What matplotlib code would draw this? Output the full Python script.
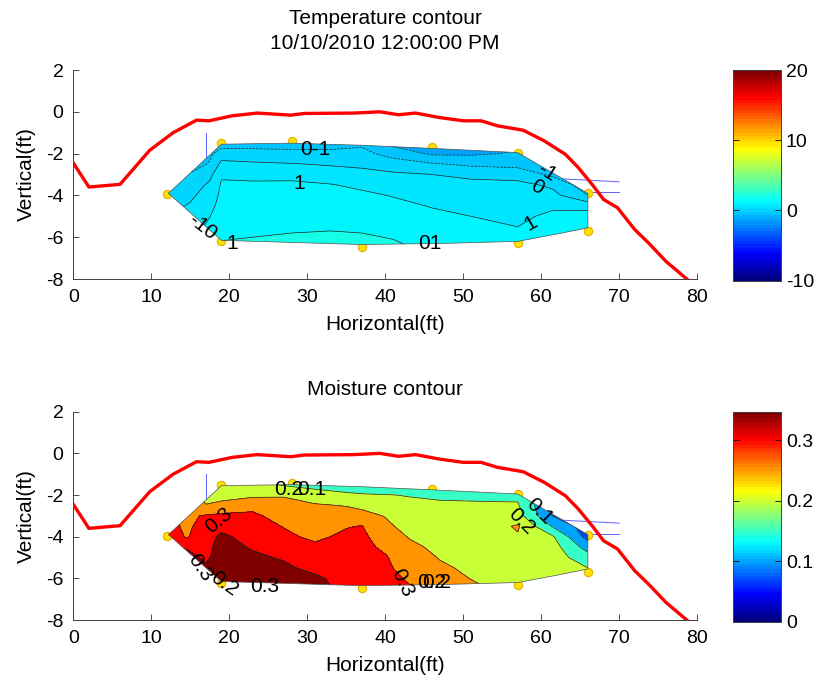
import numpy as np
import matplotlib.pyplot as plt
from matplotlib.patches import Polygon
from matplotlib.colors import Normalize, LinearSegmentedColormap
from matplotlib.cm import ScalarMappable

plt.rcParams['font.family'] = ['Liberation Sans', 'DejaVu Sans']
plt.rcParams['axes.unicode_minus'] = False

# ground surface profile (ft)
surf_x = [0, 2, 6, 9.8, 12.8, 15.8, 17.4, 20.4, 23.6, 27.9, 29.6, 36, 39.3, 41.7, 43.9,
          46.9, 50, 52.3, 54.4, 57.7, 60.4, 63.1, 64.7, 66.6, 68, 69.8, 72, 73.9, 76, 79]
surf_y = [-2.45, -3.6, -3.47, -1.84, -1.0, -0.4, -0.43, -0.19, -0.06, -0.16, -0.08, -0.06,
          0.0, -0.14, -0.06, -0.27, -0.43, -0.43, -0.67, -0.88, -1.39, -2.03, -2.64, -3.5,
          -4.19, -4.59, -5.63, -6.32, -7.15, -8.1]

# sensor locations
sens_x = [19, 28, 46, 57, 12, 66, 66, 19, 37, 57]
sens_y = [-1.5, -1.4, -1.7, -1.95, -3.95, -3.9, -5.7, -6.2, -6.45, -6.3]

# outline of the monitored zone
zone_x = [12.2, 19, 28, 37, 46, 57, 66, 66, 62, 57, 47, 37, 19]
zone_y = [-3.9, -1.55, -1.5, -1.6, -1.75, -1.95, -3.9, -5.55, -5.85, -6.2, -6.3, -6.35, -6.15]

# pipes / probes
probe_x = [[17, 17], [62.3, 70], [66, 70]]
probe_y = [[-1.0, -2.4], [-3.2, -3.35], [-3.85, -3.85]]

grid_y = [-1.5, -2.0, -2.5, -3.0, -3.5, -4.0, -4.5, -5.0, -5.5, -6.0, -6.5]

# temperature (deg) on grid
temp_x = [12, 15, 17.5, 19, 23, 28, 33, 37, 41, 46, 51, 57, 61.5, 66]
temp = [
    [-1.0, -1.5, -1.4, -1.5, -1.45, -1.45, -1.4, -1.2, -2.3, -2.6, -2.6, -2.2, -2.0, -2.0],
    [-1.0, -1.5, -1.2, -0.5, -0.6, -0.7, -0.75, -0.7, -1.4, -2.15, -2.15, -1.9, -2.0, -2.0],
    [-0.8, -1.5, -0.9, 0.25, 0.15, 0.05, -0.1, -0.2, -0.5, -0.9, -1.2, -1.3, -1.8, -2.0],
    [-0.6, -0.9, -0.3, 0.9, 0.75, 0.7, 0.5, 0.3, 0.15, 0.0, -0.2, -0.45, -1.2, -2.0],
    [-0.5, -0.6, 0.2, 1.1, 1.15, 1.2, 1.05, 0.8, 0.55, 0.3, 0.25, 0.3, -0.2, -1.6],
    [-0.4, -0.2, 0.5, 1.2, 1.3, 1.35, 1.3, 1.2, 0.95, 0.6, 0.5, 0.5, 0.3, -1.0],
    [-0.3, 0.1, 0.75, 1.3, 1.4, 1.5, 1.5, 1.45, 1.25, 0.95, 0.75, 0.65, 0.85, 0.6],
    [-0.1, 0.4, 0.98, 1.4, 1.5, 1.65, 1.7, 1.65, 1.5, 1.2, 1.0, 0.8, 1.2, 1.5],
    [0.1, 0.6, 1.2, 1.6, 1.7, 1.85, 1.9, 1.85, 1.7, 1.4, 1.2, 1.0, 1.4, 1.7],
    [0.3, 0.8, 1.5, 1.9, 2.0, 2.1, 2.15, 2.1, 1.95, 1.6, 1.4, 1.15, 1.5, 1.8],
    [0.5, 1.0, 1.8, 2.2, 2.3, 2.4, 2.4, 2.3, 2.2, 1.8, 1.6, 1.3, 1.6, 1.9],
]
temp_levels = [-3, -2, -1, 0, 1, 2, 3]
# shade used for each temperature band, as it appears in the picture
temp_band_tone = [-1.2, -0.6, 0.0, 0.5, 1.1, 1.8]

# moisture on grid
moist_x = [12, 14.5, 17, 19, 23, 27, 31, 35, 37, 40, 43, 47, 52, 57, 61.5, 66]
moist = [
    [0.30, 0.28, 0.22, 0.21, 0.215, 0.195, 0.18, 0.17, 0.165, 0.16, 0.155, 0.15, 0.145, 0.17, 0.08, 0.075],
    [0.30, 0.28, 0.235, 0.23, 0.24, 0.245, 0.225, 0.21, 0.205, 0.202, 0.198, 0.195, 0.185, 0.19, 0.08, 0.075],
    [0.30, 0.285, 0.252, 0.265, 0.285, 0.27, 0.255, 0.248, 0.24, 0.225, 0.21, 0.205, 0.21, 0.205, 0.09, 0.075],
    [0.31, 0.29, 0.305, 0.31, 0.31, 0.28, 0.27, 0.27, 0.265, 0.248, 0.225, 0.215, 0.215, 0.22, 0.098, 0.072],
    [0.32, 0.29, 0.32, 0.335, 0.32, 0.298, 0.28, 0.297, 0.302, 0.26, 0.235, 0.225, 0.22, 0.256, 0.145, 0.072],
    [0.34, 0.295, 0.33, 0.36, 0.33, 0.31, 0.29, 0.31, 0.31, 0.275, 0.248, 0.232, 0.225, 0.245, 0.205, 0.08],
    [0.35, 0.345, 0.335, 0.37, 0.345, 0.32, 0.31, 0.315, 0.315, 0.29, 0.26, 0.24, 0.23, 0.235, 0.22, 0.13],
    [0.36, 0.37, 0.34, 0.375, 0.36, 0.345, 0.32, 0.32, 0.318, 0.305, 0.27, 0.248, 0.235, 0.23, 0.225, 0.17],
    [0.36, 0.37, 0.36, 0.38, 0.37, 0.36, 0.335, 0.325, 0.32, 0.31, 0.28, 0.256, 0.24, 0.225, 0.225, 0.2],
    [0.36, 0.37, 0.38, 0.38, 0.375, 0.37, 0.36, 0.33, 0.322, 0.315, 0.295, 0.265, 0.245, 0.22, 0.225, 0.21],
    [0.36, 0.37, 0.38, 0.38, 0.38, 0.375, 0.37, 0.335, 0.325, 0.32, 0.305, 0.27, 0.255, 0.22, 0.225, 0.215],
]
moist_levels = [0.07, 0.1, 0.15, 0.2, 0.25, 0.3, 0.35, 0.4]
moist_band_tone = moist_levels[:-1]

# contour labels as printed: text, x, y, rotation
temp_labels = [("0-1", 31, -1.8, 0), ("1", 29, -3.45, 0), ("-10", 16.6, -5.5, -38),
               ("1", 20.4, -6.3, 0), ("01", 45.7, -6.3, 0), ("-1", 60.8, -2.9, -32),
               ("0", 59.5, -3.62, -30), ("1", 58.7, -5.35, 30)]
moist_labels = [("0.2", 27.6, -1.75, 0), ("0.1", 30.6, -1.75, 0), ("0.3", 18.7, -3.2, 40),
                ("0.3", 16.3, -5.5, -55), ("0.2", 19.3, -6.25, -35), ("0.3", 24.6, -6.4, 0),
                ("0.3", 42.2, -6.2, -65), ("0.2", 45.9, -6.2, 0), ("0.2", 46.6, -6.2, 0),
                ("0.1", 59.8, -2.8, -45), ("0.2", 57.5, -3.27, -45)]

# MATLAB flavoured jet, 64 steps
cmap = LinearSegmentedColormap('mjet', {
    'red': [(0, 0, 0), (0.375, 0, 0), (0.625, 1, 1), (0.875, 1, 1), (1, 0.5, 0.5)],
    'green': [(0, 0, 0), (0.125, 0, 0), (0.375, 1, 1), (0.625, 1, 1), (0.875, 0, 0), (1, 0, 0)],
    'blue': [(0, 0.5, 0.5), (0.125, 1, 1), (0.375, 1, 1), (0.625, 0, 0), (1, 0, 0)]}, N=64)
temp_norm = Normalize(-10, 20)
moist_norm = Normalize(0, 0.347)

fig = plt.figure(figsize=(8.21, 6.83), dpi=100)


def draw_panel(ax, gx, field, levels, tones, norm, labels, title, title_pad):
    X, Y = np.meshgrid(gx, grid_y)
    Z = np.array(field)
    zone = Polygon(np.column_stack([zone_x, zone_y]), closed=True, transform=ax.transData)
    band_colors = [cmap(norm(v)) for v in tones]

    for px, py in zip(probe_x, probe_y):
        ax.plot(px, py, color='#6060ff', lw=0.7, zorder=1)
    ax.plot(sens_x, sens_y, 'o', ms=6, mfc='#ffe000', mec='#e0b000', mew=0.8, zorder=1)

    cf = ax.contourf(X, Y, Z, levels=levels, colors=band_colors, zorder=2)
    cf.set_clip_path(zone)
    cl = ax.contour(X, Y, Z, levels=levels[1:-1], colors='#202020', linewidths=0.5, zorder=3)
    cl.set_clip_path(zone)
    ax.plot(zone_x + zone_x[:1], zone_y + zone_y[:1], color='#505050', lw=0.5, zorder=3)

    ax.plot(surf_x, surf_y, color='#ff0000', lw=2.4, zorder=4, solid_joinstyle='round')

    for txt, lx, ly, rot in labels:
        ax.text(lx, ly, txt, fontsize=15, rotation=rot, ha='center', va='center',
                zorder=5, rotation_mode='anchor')

    ax.set_xlim(0, 80)
    ax.set_ylim(-8, 2)
    ax.set_xticks(range(0, 81, 10))
    ax.set_yticks(range(-8, 3, 2))
    ax.tick_params(direction='in', length=4, width=0.6, labelsize=14, colors='#303030',
                   labelcolor='black', pad=7)
    for s in ['top', 'right']:
        ax.spines[s].set_visible(False)
    for s in ['left', 'bottom']:
        ax.spines[s].set_color('#404040')
        ax.spines[s].set_linewidth(0.7)
    ax.set_xlabel('Horizontal(ft)', fontsize=15, labelpad=7)
    ax.set_ylabel('Vertical(ft)', fontsize=15, labelpad=7)
    ax.set_title(title, fontsize=15, pad=title_pad, linespacing=1.4)


def draw_bar(cax, norm, ticks, ticklabels):
    cb = fig.colorbar(ScalarMappable(norm=norm, cmap=cmap), cax=cax)
    cb.set_ticks(ticks)
    cb.set_ticklabels(ticklabels)
    cb.outline.set_linewidth(0.7)
    cb.outline.set_edgecolor('#404040')
    cax.tick_params(direction='in', length=4, width=0.6, labelsize=14, left=True, right=True)


ax1 = fig.add_axes([0.0893, 0.5915, 0.7597, 0.306])
draw_panel(ax1, temp_x, temp, temp_levels, temp_band_tone, temp_norm, temp_labels,
           'Temperature contour\n10/10/2010 12:00:00 PM', 15)
cax1 = fig.add_axes([0.8928, 0.589, 0.0585, 0.3085])
draw_bar(cax1, temp_norm, [-10, 0, 10, 20], ['-10', '0', '10', '20'])

ax2 = fig.add_axes([0.0893, 0.0922, 0.7597, 0.305])
draw_panel(ax2, moist_x, moist, moist_levels, moist_band_tone, moist_norm, moist_labels,
           'Moisture contour', 12)
cax2 = fig.add_axes([0.8928, 0.0897, 0.0585, 0.3075])
draw_bar(cax2, moist_norm, [0, 0.1, 0.2, 0.3], ['0', '0.1', '0.2', '0.3'])

fig.savefig('out.png', dpi=100)
